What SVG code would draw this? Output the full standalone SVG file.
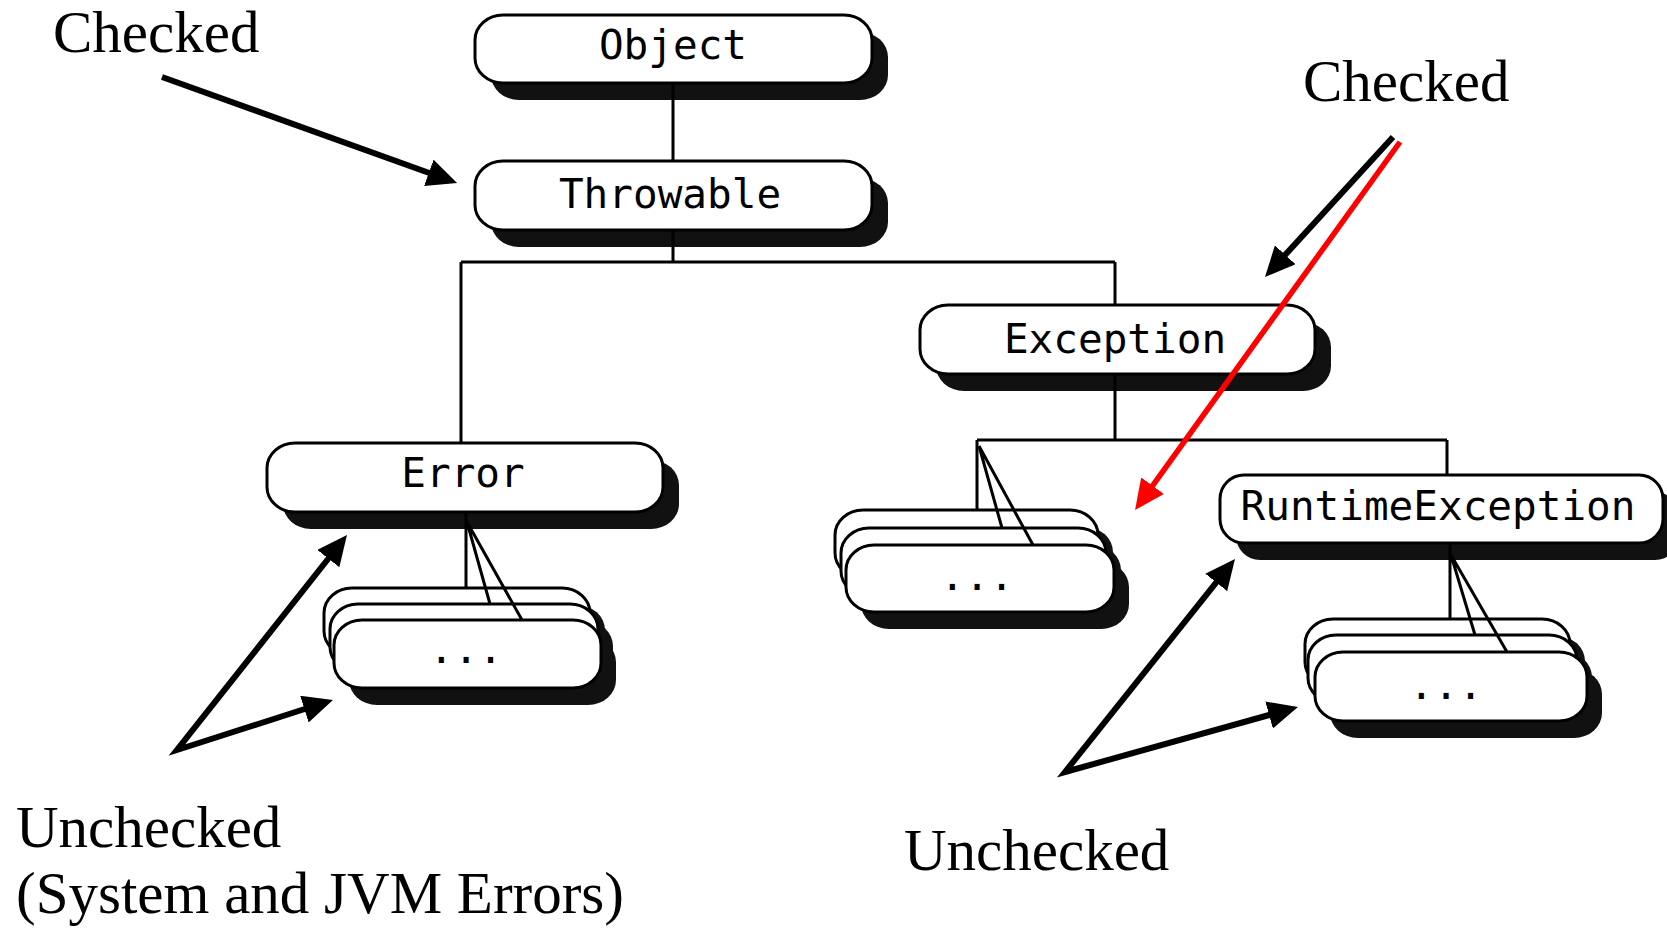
<svg xmlns="http://www.w3.org/2000/svg" width="1667" height="928" viewBox="0 0 1667 928">
  <style>
    .pill { fill: #fff; stroke: #000; stroke-width: 3; }
    .shadow { fill: #111; }
    .lbl { font-family: "DejaVu Sans Mono", "Liberation Mono", monospace; font-size: 41px; text-anchor: middle; fill: #000; }
    .note { font-family: "Liberation Serif", "Times New Roman", serif; font-size: 59px; fill: #000; }
    .tree { stroke: #000; stroke-width: 3; fill: none; }
    .ann { stroke: #000; stroke-width: 6; fill: none; stroke-linejoin: miter; marker-end: url(#ah); }
    .ann2 { marker-start: url(#ahs); }
    .red { stroke: #f00; stroke-width: 5.5; fill: none; marker-end: url(#ahr); }
  </style>
  <defs>
    <marker id="ah" markerUnits="userSpaceOnUse" viewBox="0 0 30 28" markerWidth="30" markerHeight="28" refX="2" refY="14" orient="auto">
      <path d="M0,0 L30,14 L0,28 z" fill="#000"/>
    </marker>
    <marker id="ahs" markerUnits="userSpaceOnUse" viewBox="0 0 30 28" markerWidth="30" markerHeight="28" refX="2" refY="14" orient="auto-start-reverse">
      <path d="M0,0 L30,14 L0,28 z" fill="#000"/>
    </marker>
    <marker id="ahr" markerUnits="userSpaceOnUse" viewBox="0 0 30 28" markerWidth="30" markerHeight="28" refX="2" refY="14" orient="auto">
      <path d="M0,0 L30,14 L0,28 z" fill="#f00"/>
    </marker>
  </defs>

  <rect width="1667" height="928" fill="#fff"/>

  <!-- class nodes -->
  <g id="node-object">
    <rect class="shadow" x="491" y="32" width="397" height="68" rx="28" ry="25"/>
    <rect class="pill" x="475" y="15" width="397" height="68" rx="28" ry="25"/>
    <text class="lbl" x="673" y="59">Object</text>
  </g>
  <g id="node-throwable">
    <rect class="shadow" x="491" y="178" width="397" height="69" rx="28" ry="25"/>
    <rect class="pill" x="475" y="161" width="397" height="69" rx="28" ry="25"/>
    <text class="lbl" x="670" y="208">Throwable</text>
  </g>
  <g id="node-exception">
    <rect class="shadow" x="936" y="322" width="395" height="69" rx="28" ry="25"/>
    <rect class="pill" x="920" y="305" width="395" height="69" rx="28" ry="25"/>
    <text class="lbl" x="1115" y="353">Exception</text>
  </g>
  <g id="node-error">
    <rect class="shadow" x="283" y="460" width="396" height="69" rx="28" ry="25"/>
    <rect class="pill" x="267" y="443" width="396" height="69" rx="28" ry="25"/>
    <text class="lbl" x="463" y="487">Error</text>
  </g>
  <g id="node-runtime">
    <rect class="shadow" x="1236" y="492" width="443" height="68" rx="24" ry="24"/>
    <rect class="pill" x="1220" y="475" width="443" height="68" rx="24" ry="24"/>
    <text class="lbl" x="1438" y="520">RuntimeException</text>
  </g>

  <!-- stacked subclass placeholders -->
  <g id="stack-error">
    <rect class="shadow" x="339" y="605" width="266" height="68" rx="28" ry="25"/>
    <rect class="pill" x="324" y="588" width="266" height="68" rx="28" ry="25"/>
    <rect class="shadow" x="345" y="621" width="268" height="68" rx="28" ry="25"/>
    <rect class="pill" x="330" y="604" width="268" height="68" rx="28" ry="25"/>
    <rect class="shadow" x="349" y="637" width="267" height="68" rx="28" ry="25"/>
    <rect class="pill" x="334" y="620" width="267" height="68" rx="28" ry="25"/>
    <text class="lbl" x="466" y="663">...</text>
  </g>
  <g id="stack-exception">
    <rect class="shadow" x="850" y="527" width="263" height="68" rx="28" ry="25"/>
    <rect class="pill" x="835" y="510" width="263" height="68" rx="28" ry="25"/>
    <rect class="shadow" x="856" y="545" width="265" height="68" rx="28" ry="25"/>
    <rect class="pill" x="841" y="528" width="265" height="68" rx="28" ry="25"/>
    <rect class="shadow" x="861" y="562" width="268" height="67" rx="28" ry="25"/>
    <rect class="pill" x="846" y="545" width="268" height="67" rx="28" ry="25"/>
    <text class="lbl" x="977" y="590">...</text>
  </g>
  <g id="stack-runtime">
    <rect class="shadow" x="1320" y="636" width="265" height="68" rx="28" ry="25"/>
    <rect class="pill" x="1305" y="619" width="265" height="68" rx="28" ry="25"/>
    <rect class="shadow" x="1323" y="652" width="269" height="68" rx="28" ry="25"/>
    <rect class="pill" x="1308" y="635" width="269" height="68" rx="28" ry="25"/>
    <rect class="shadow" x="1330" y="669" width="272" height="69" rx="28" ry="25"/>
    <rect class="pill" x="1315" y="652" width="272" height="69" rx="28" ry="25"/>
    <text class="lbl" x="1446" y="699">...</text>
  </g>

  <!-- inheritance lines -->
  <g id="connectors" class="tree">
    <path d="M673,83 V161"/>
    <path d="M673,230 V262 M461,262 H1115 M461,262 V443 M1115,262 V305"/>
    <path d="M1115,374 V440 M977,440 H1447 M977,440 V510 M1447,440 V475"/>
    <path d="M979,446 L1002,528 M979,446 L1033,545"/>
    <path d="M466,512 V588 M467,522 L490,604 M467,522 L522,620"/>
    <path d="M1450,543 V619 M1451,555 L1475,635 M1451,555 L1507,652"/>
  </g>

  <!-- annotations -->
  <g id="annotations">
    <text class="note" x="53" y="52">Checked</text>
    <text class="note" x="1303" y="101">Checked</text>
    <text class="note" x="16" y="847">Unchecked</text>
    <text class="note" x="16" y="913">(System and JVM Errors)</text>
    <text class="note" x="904" y="870">Unchecked</text>

    <path class="ann" d="M162,77 L430.7,173.5"/>
    <path class="ann" d="M1393,137 L1283.9,256.3"/>
    <path class="red" d="M1400,142 L1151.4,487.3"/>
    <path class="ann ann2" d="M329.6,557 L177,750 L306.3,708.5"/>
    <path class="ann ann2" d="M1217.5,580.9 L1065,772 L1271,714.5"/>
  </g>
</svg>
